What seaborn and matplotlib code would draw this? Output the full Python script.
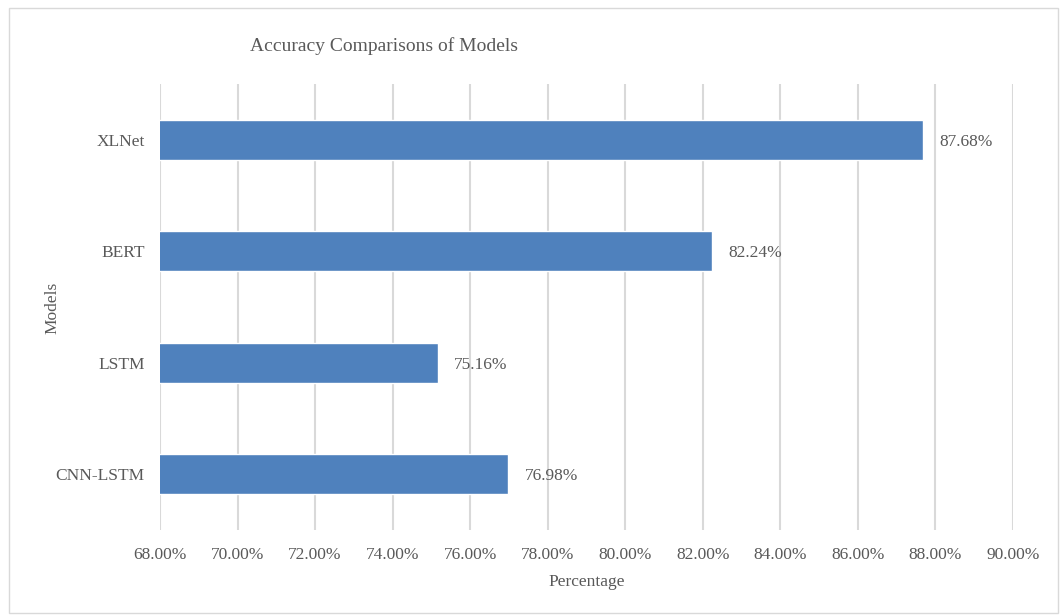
import matplotlib
matplotlib.use("Agg")
import matplotlib.pyplot as plt
import matplotlib.ticker as mticker
import seaborn as sns
import pandas as pd

models = ["XLNet", "BERT", "LSTM", "CNN-LSTM"]
accuracy = [87.68, 82.24, 75.16, 76.98]
x_ticks = [68, 70, 72, 74, 76, 78, 80, 82, 84, 86, 88, 90]

sns.set_theme(style="white")
plt.rcParams["font.family"] = ["Liberation Serif", "DejaVu Serif"]

text_color = "#595959"
bar_color = "#4F81BD"

df = pd.DataFrame({"Model": models, "Accuracy": accuracy})

fig = plt.figure(figsize=(10.61, 6.15), dpi=100)
ax = fig.add_axes([160 / 1061, 1 - 530 / 615, (1013 - 160) / 1061, (530 - 84) / 615])

sns.barplot(data=df, x="Accuracy", y="Model", orient="h", color=bar_color,
            width=0.36, saturation=1, ax=ax, zorder=3)

ax.set_xlim(68, 90)
ax.set_xticks(x_ticks)
ax.xaxis.set_major_formatter(mticker.FuncFormatter(lambda v, p: f"{v:.2f}%"))
ax.grid(axis="x", color="#D9D9D9", linewidth=1.5, zorder=0)
ax.grid(axis="y", visible=False)
for s in ax.spines.values():
    s.set_visible(False)
ax.tick_params(axis="both", length=0, labelsize=12.5, colors=text_color)
ax.tick_params(axis="x", pad=12)
ax.tick_params(axis="y", pad=11)

for i, v in enumerate(accuracy):
    ax.text(v + 0.42, i + 0.02, f"{v:.2f}%", va="center", ha="left",
            fontsize=12.5, color=text_color)

ax.set_xlabel("Percentage", fontsize=12.5, color=text_color, labelpad=8)
ax.set_ylabel("")
fig.text(52 / 1061, 1 - 308 / 615, "Models", rotation=90, ha="center",
         va="center", fontsize=12.5, color=text_color)

fig.text(384 / 1061, 1 - 46 / 615, "Accuracy Comparisons of Models",
         ha="center", va="center", fontsize=14, color=text_color)

border = plt.Rectangle((9 / 1061, 2 / 615), 1 - 12 / 1061, 1 - 10 / 615,
                       transform=fig.transFigure, fill=False,
                       edgecolor="#D9D9D9", linewidth=1)
fig.patches.append(border)

fig.savefig("out.png", dpi=100)
